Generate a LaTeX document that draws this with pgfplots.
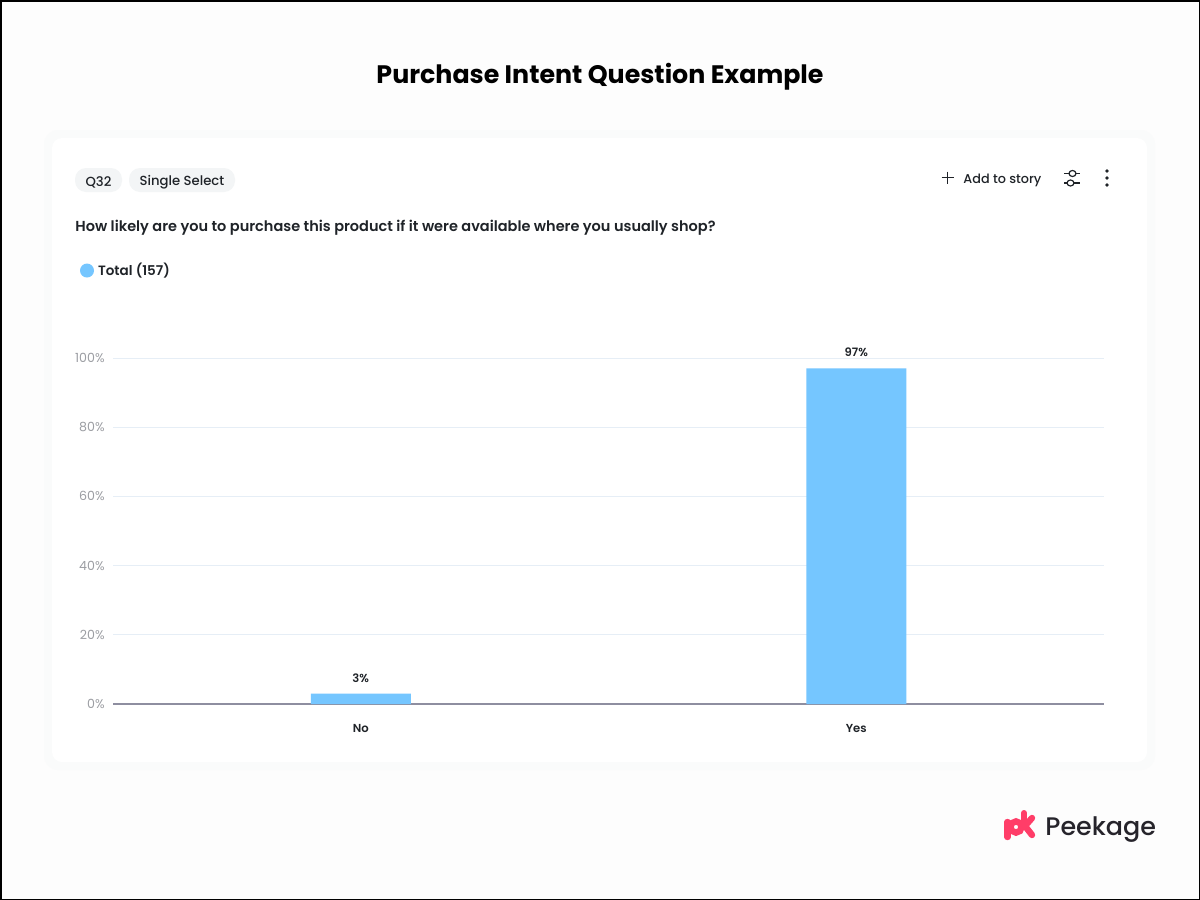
\documentclass[border=0pt]{standalone}
\usepackage{pgfplots}
\pgfplotsset{compat=1.18}
\usepackage{fontspec}
\setmainfont{Poppins}
\newfontfamily\med{Poppins Medium}
\newfontfamily\semi{Poppins SemiBold}
\usetikzlibrary{calc}
\definecolor{pagebg}{HTML}{FDFDFD}
\definecolor{halo}{HTML}{FAFBFB}
\definecolor{chipbg}{HTML}{F3F5F6}
\definecolor{ink}{HTML}{1F2328}
\definecolor{barblue}{HTML}{75C6FF}
\definecolor{gridc}{HTML}{E6EEF6}
\definecolor{tickc}{HTML}{9C9EA3}
\definecolor{basec}{HTML}{8E8EA0}
\definecolor{pinkc}{HTML}{FF3D68}
\definecolor{logoink}{HTML}{26242B}
\begin{document}
\begin{tikzpicture}[x=0.5pt,y=-0.5pt]
\path[use as bounding box] (0,0) rectangle (1200,900);
\fill[pagebg] (0,0) rectangle (1200,900);
\draw[black,line width=1pt] (0.5,0.5) rectangle (1199.5,899.5);
\node[font=\fontsize{12.65}{15}\selectfont\bfseries,text=black] at (600,77) {Purchase Intent Question Example};
\fill[halo,rounded corners=7pt] (44,130) rectangle (1155,770);
\fill[white,rounded corners=5pt] (52,138) rectangle (1147,762);
% chips
\fill[chipbg,rounded corners=5.5pt] (75,168) rectangle (122,192);
\fill[chipbg,rounded corners=5.5pt] (129,168) rectangle (235,192);
\node[font=\fontsize{6.6}{8}\selectfont\med,text=ink] at (98.5,182) {Q32};
\node[font=\fontsize{6.6}{8}\selectfont\med,text=ink] at (182,182) {Single Select};
\node[font=\fontsize{7.25}{9}\selectfont\semi,text=ink,anchor=west,inner sep=0pt] at (75,228) {How likely are you to purchase this product if it were available where you usually shop?};
% top right controls
\draw[ink,line width=0.7pt] (941.5,177.5) -- (953.5,177.5) (947.5,171.5) -- (947.5,183.5);
\node[font=\fontsize{6.4}{8}\selectfont\med,text=ink,anchor=west,inner sep=0pt] at (963,180) {Add to story};
\draw[ink,line width=0.6pt] (1064,173.5) -- (1069,173.5) (1076,173.5) -- (1080,173.5) (1064,183) -- (1067,183) (1074,183) -- (1080,183);
\draw[ink,line width=0.6pt] (1072.5,173.5) ellipse (3.5 and 3);
\draw[ink,line width=0.6pt] (1070.5,183) ellipse (3.5 and 3);
\fill[ink] (1107,171) circle (1.8) (1107,178) circle (1.8) (1107,185) circle (1.8);
% axis
\begin{axis}[
  at={(56.5pt,-352pt)},anchor=south west,
  scale only axis,width=495.5pt,height=173pt,
  xmin=-0.5,xmax=1.5,ymin=0,ymax=100,
  axis y line=none,
  axis x line=bottom,
  axis line style={basec,line width=0.6pt,-},
  xtick={0,1},xticklabels={No,Yes},
  major tick length=0pt,
  x tick label style={font=\fontsize{5.8}{7}\selectfont\semi,text=ink,yshift=-6.5pt},
  clip=false,
  legend style={at={(-0.0333,1.2528)},anchor=west,draw=none,fill=none,inner sep=0pt,outer sep=0pt,
    font=\fontsize{6.75}{8}\selectfont\semi,text=ink,legend cell align=left},
  legend image code/.code={\fill[barblue] (0.0cm,0cm) circle (3.5pt);},
  /pgf/number format/assume math mode=true,
  nodes near coords={\pgfmathprintnumber{\pgfplotspointmeta}\%},
  every node near coord/.append style={font=\fontsize{5.8}{7}\selectfont\semi,text=ink,yshift=2.2pt},
]
\addplot[gridc,line width=0.5pt,forget plot,nodes near coords={}] coordinates {(-0.5,20) (1.5,20)};
\addplot[gridc,line width=0.5pt,forget plot,nodes near coords={}] coordinates {(-0.5,40) (1.5,40)};
\addplot[gridc,line width=0.5pt,forget plot,nodes near coords={}] coordinates {(-0.5,60) (1.5,60)};
\addplot[gridc,line width=0.5pt,forget plot,nodes near coords={}] coordinates {(-0.5,80) (1.5,80)};
\addplot[gridc,line width=0.5pt,forget plot,nodes near coords={}] coordinates {(-0.5,100) (1.5,100)};
\addplot[ybar,bar width=50pt,fill=barblue,draw=none,bar shift=0pt] coordinates {(0,3) (1,97)};
\addlegendentry{Total (157)}
\node[anchor=east,inner sep=0pt,font=\fontsize{6.3}{7}\selectfont,text=tickc] at (axis cs:-0.5,0) [xshift=-4pt] {0\%};
\node[anchor=east,inner sep=0pt,font=\fontsize{6.3}{7}\selectfont,text=tickc] at (axis cs:-0.5,20) [xshift=-4pt] {20\%};
\node[anchor=east,inner sep=0pt,font=\fontsize{6.3}{7}\selectfont,text=tickc] at (axis cs:-0.5,40) [xshift=-4pt] {40\%};
\node[anchor=east,inner sep=0pt,font=\fontsize{6.3}{7}\selectfont,text=tickc] at (axis cs:-0.5,60) [xshift=-4pt] {60\%};
\node[anchor=east,inner sep=0pt,font=\fontsize{6.3}{7}\selectfont,text=tickc] at (axis cs:-0.5,80) [xshift=-4pt] {80\%};
\node[anchor=east,inner sep=0pt,font=\fontsize{6.3}{7}\selectfont,text=tickc] at (axis cs:-0.5,100) [xshift=-4pt] {100\%};
\end{axis}
% logo
\draw[pinkc,line width=3.2pt] (1016,827) circle (5.6);
\draw[pinkc,line width=3.2pt,line cap=round] (1007.5,822) -- (1007.5,837);
\draw[pinkc,line width=3pt,line cap=round] (1024,813) -- (1024,826);
\draw[pinkc,line width=3.2pt,line cap=round] (1032,818) -- (1025,826) -- (1032,835);
\node[font=\fontsize{12.7}{15}\selectfont\med,text=logoink,anchor=west,inner sep=0pt] at (1045,830) {Peekage};
\end{tikzpicture}
\end{document}
